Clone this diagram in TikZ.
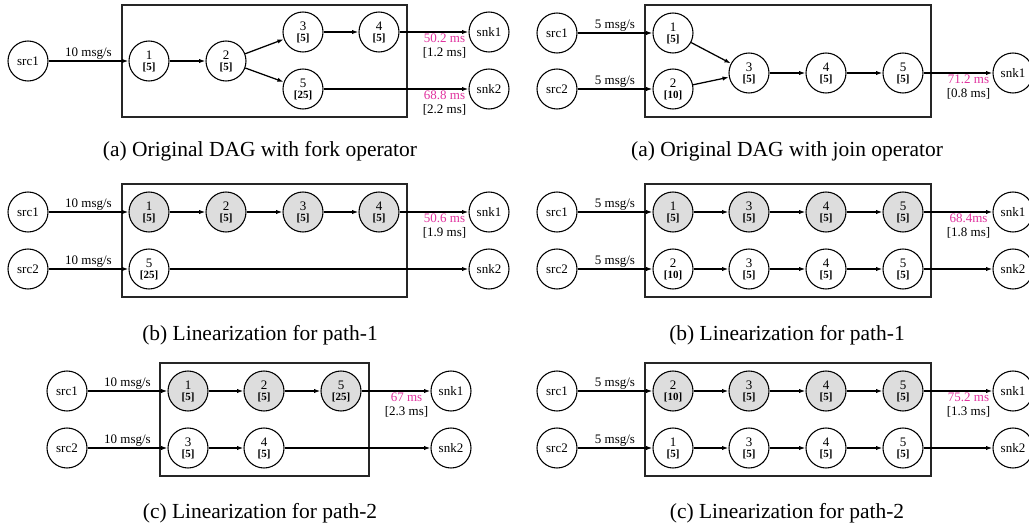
\documentclass[tikz,border=0pt]{standalone}
\usepackage{fontspec}
\setmainfont{Liberation Serif}
\usetikzlibrary{arrows.meta}

\definecolor{latency}{RGB}{224,50,158}
\definecolor{opfill}{RGB}{221,221,221}

% operator label: id on top, bold parallelism below
\newcommand{\oplabel}[2]{#1\\{\fontsize{8.25}{8.25}\selectfont\bfseries[#2]}}
% end-to-end latency with its deviation
\newcommand{\latlabel}[2]{\textcolor{latency}{#1}\\{[#2]}}

\tikzset{
  x=0.75pt, y=-0.75pt,
  io/.style={circle, draw, line width=0.8pt, minimum size=30pt, inner sep=0pt,
             font=\fontsize{9.75}{10}\selectfont},
  op/.style={io, align=center, font=\fontsize{9.75}{8.25}\selectfont},
  hot/.style={op, fill=opfill},
  flow/.style={-{Latex[length=4.8pt,width=3.2pt]}, line width=0.95pt},
  region/.style={draw=black!85, line width=1.05pt},
  rate/.style={above, inner sep=0.8pt, font=\fontsize{9.75}{10}\selectfont},
  lat/.style={anchor=north east, align=center, inner sep=1.5pt,
              font=\fontsize{9.75}{10.1}\selectfont},
  caption/.style={anchor=base, inner sep=0pt, font=\fontsize{16.1}{18}\selectfont},
}

\begin{document}
\begin{tikzpicture}
\useasboundingbox (0,0) rectangle (1029,527);

% ---------------- (a) fork operator ----------------
\draw[region] (122,5) rectangle (407,117);
\node[io] (A-src1) at (28,61) {src1};
\node[op] (A-1) at (149,61) {\oplabel{1}{5}};
\node[op] (A-2) at (226,61) {\oplabel{2}{5}};
\node[op] (A-3) at (303,32) {\oplabel{3}{5}};
\node[op] (A-4) at (379,32) {\oplabel{4}{5}};
\node[op] (A-5) at (303,89) {\oplabel{5}{25}};
\node[io] (A-snk1) at (489,32) {snk1};
\node[io] (A-snk2) at (489,89) {snk2};
\draw[flow] (A-src1) -- node[rate] (A-r1) {10 msg/s} (A-1);
\draw[flow] (A-1) -- (A-2);
\draw[flow] (A-2) -- (A-3);
\draw[flow] (A-2) -- (A-5);
\draw[flow] (A-3) -- (A-4);
\draw[flow] (A-4) -- (A-snk1);
\draw[flow] (A-5) -- (A-snk2);
\node[lat] (A-l1) at (A-snk1.west) {\latlabel{50.2 ms}{1.2 ms}};
\node[lat] (A-l2) at (A-snk2.west) {\latlabel{68.8 ms}{2.2 ms}};
\node[caption] (A-cap) at (260,157) {(a) Original DAG with fork operator};

% ---------------- (a) join operator ----------------
\draw[region] (645,5) rectangle (931,117);
\node[io] (B-src1) at (557,33) {src1};
\node[io] (B-src2) at (557,89) {src2};
\node[op] (B-1) at (673,33) {\oplabel{1}{5}};
\node[op] (B-2) at (673,89) {\oplabel{2}{10}};
\node[op] (B-3) at (749,73) {\oplabel{3}{5}};
\node[op] (B-4) at (826,73) {\oplabel{4}{5}};
\node[op] (B-5) at (903,73) {\oplabel{5}{5}};
\node[io] (B-snk1) at (1013,73) {snk1};
\draw[flow] (B-src1) -- node[rate] (B-r1) {5 msg/s} (B-1);
\draw[flow] (B-src2) -- node[rate] (B-r2) {5 msg/s} (B-2);
\draw[flow] (B-1) -- (B-3);
\draw[flow] (B-2) -- (B-3);
\draw[flow] (B-3) -- (B-4);
\draw[flow] (B-4) -- (B-5);
\draw[flow] (B-5) -- (B-snk1);
\node[lat] (B-l1) at (B-snk1.west) {\latlabel{71.2 ms}{0.8 ms}};
\node[caption] (B-cap) at (787,157) {(a) Original DAG with join operator};

% ---------------- (b) fork, path-1 ----------------
\draw[region] (122,184) rectangle (407,297);
\node[io] (C-src1) at (28,212) {src1};
\node[io] (C-src2) at (28,269) {src2};
\node[hot] (C-1) at (149,212) {\oplabel{1}{5}};
\node[hot] (C-2) at (226,212) {\oplabel{2}{5}};
\node[hot] (C-3) at (303,212) {\oplabel{3}{5}};
\node[hot] (C-4) at (379,212) {\oplabel{4}{5}};
\node[op] (C-5) at (149,269) {\oplabel{5}{25}};
\node[io] (C-snk1) at (489,212) {snk1};
\node[io] (C-snk2) at (489,269) {snk2};
\draw[flow] (C-src1) -- node[rate] (C-r1) {10 msg/s} (C-1);
\draw[flow] (C-src2) -- node[rate] (C-r2) {10 msg/s} (C-5);
\draw[flow] (C-1) -- (C-2);
\draw[flow] (C-2) -- (C-3);
\draw[flow] (C-3) -- (C-4);
\draw[flow] (C-4) -- (C-snk1);
\draw[flow] (C-5) -- (C-snk2);
\node[lat] (C-l1) at (C-snk1.west) {\latlabel{50.6 ms}{1.9 ms}};
\node[caption] (C-cap) at (260,341) {(b) Linearization for path-1};

% ---------------- (b) join, path-1 ----------------
\draw[region] (645,184) rectangle (931,297);
\node[io] (D-src1) at (557,212) {src1};
\node[io] (D-src2) at (557,269) {src2};
\node[hot] (D-1) at (673,212) {\oplabel{1}{5}};
\node[hot] (D-3a) at (749,212) {\oplabel{3}{5}};
\node[hot] (D-4a) at (826,212) {\oplabel{4}{5}};
\node[hot] (D-5a) at (903,212) {\oplabel{5}{5}};
\node[op] (D-2) at (673,269) {\oplabel{2}{10}};
\node[op] (D-3b) at (749,269) {\oplabel{3}{5}};
\node[op] (D-4b) at (826,269) {\oplabel{4}{5}};
\node[op] (D-5b) at (903,269) {\oplabel{5}{5}};
\node[io] (D-snk1) at (1013,212) {snk1};
\node[io] (D-snk2) at (1013,269) {snk2};
\draw[flow] (D-src1) -- node[rate] (D-r1) {5 msg/s} (D-1);
\draw[flow] (D-src2) -- node[rate] (D-r2) {5 msg/s} (D-2);
\draw[flow] (D-1) -- (D-3a);
\draw[flow] (D-3a) -- (D-4a);
\draw[flow] (D-4a) -- (D-5a);
\draw[flow] (D-5a) -- (D-snk1);
\draw[flow] (D-2) -- (D-3b);
\draw[flow] (D-3b) -- (D-4b);
\draw[flow] (D-4b) -- (D-5b);
\draw[flow] (D-5b) -- (D-snk2);
\node[lat] (D-l1) at (D-snk1.west) {\latlabel{68.4ms}{1.8 ms}};
\node[caption] (D-cap) at (787,341) {(b) Linearization for path-1};

% ---------------- (c) fork, path-2 ----------------
\draw[region] (160,363) rectangle (369,476);
\node[io] (E-src1) at (67,391) {src1};
\node[io] (E-src2) at (67,448) {src2};
\node[hot] (E-1) at (188,391) {\oplabel{1}{5}};
\node[hot] (E-2) at (264,391) {\oplabel{2}{5}};
\node[hot] (E-5) at (341,391) {\oplabel{5}{25}};
\node[op] (E-3) at (188,448) {\oplabel{3}{5}};
\node[op] (E-4) at (264,448) {\oplabel{4}{5}};
\node[io] (E-snk1) at (451,391) {snk1};
\node[io] (E-snk2) at (451,448) {snk2};
\draw[flow] (E-src1) -- node[rate] (E-r1) {10 msg/s} (E-1);
\draw[flow] (E-src2) -- node[rate] (E-r2) {10 msg/s} (E-3);
\draw[flow] (E-1) -- (E-2);
\draw[flow] (E-2) -- (E-5);
\draw[flow] (E-5) -- (E-snk1);
\draw[flow] (E-3) -- (E-4);
\draw[flow] (E-4) -- (E-snk2);
\node[lat] (E-l1) at (E-snk1.west) {\latlabel{67 ms}{2.3 ms}};
\node[caption] (E-cap) at (260,518) {(c) Linearization for path-2};

% ---------------- (c) join, path-2 ----------------
\draw[region] (645,363) rectangle (931,476);
\node[io] (F-src1) at (557,391) {src1};
\node[io] (F-src2) at (557,448) {src2};
\node[hot] (F-2) at (673,391) {\oplabel{2}{10}};
\node[hot] (F-3a) at (749,391) {\oplabel{3}{5}};
\node[hot] (F-4a) at (826,391) {\oplabel{4}{5}};
\node[hot] (F-5a) at (903,391) {\oplabel{5}{5}};
\node[op] (F-1) at (673,448) {\oplabel{1}{5}};
\node[op] (F-3b) at (749,448) {\oplabel{3}{5}};
\node[op] (F-4b) at (826,448) {\oplabel{4}{5}};
\node[op] (F-5b) at (903,448) {\oplabel{5}{5}};
\node[io] (F-snk1) at (1013,391) {snk1};
\node[io] (F-snk2) at (1013,448) {snk2};
\draw[flow] (F-src1) -- node[rate] (F-r1) {5 msg/s} (F-2);
\draw[flow] (F-src2) -- node[rate] (F-r2) {5 msg/s} (F-1);
\draw[flow] (F-2) -- (F-3a);
\draw[flow] (F-3a) -- (F-4a);
\draw[flow] (F-4a) -- (F-5a);
\draw[flow] (F-5a) -- (F-snk1);
\draw[flow] (F-1) -- (F-3b);
\draw[flow] (F-3b) -- (F-4b);
\draw[flow] (F-4b) -- (F-5b);
\draw[flow] (F-5b) -- (F-snk2);
\node[lat] (F-l1) at (F-snk1.west) {\latlabel{75.2 ms}{1.3 ms}};
\node[caption] (F-cap) at (787,518) {(c) Linearization for path-2};
\end{tikzpicture}
\end{document}
